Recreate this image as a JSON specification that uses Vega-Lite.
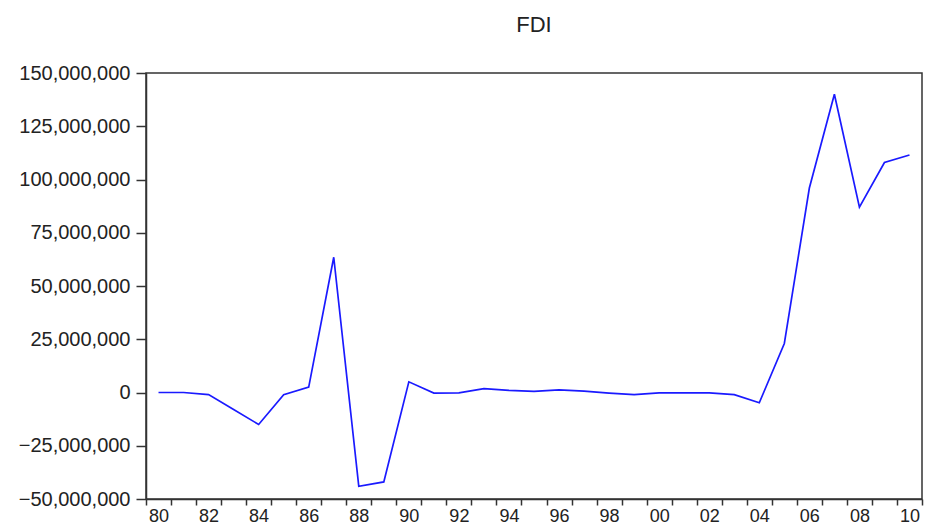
{
  "$schema": "https://vega.github.io/schema/vega-lite/v6.json",
  "autosize": "none",
  "width": 776,
  "height": 426,
  "padding": {"left": 146, "top": 73, "right": 3, "bottom": 28},
  "background": "white",
  "title": {
    "text": "FDI",
    "font": "Liberation Sans",
    "fontSize": 22,
    "fontWeight": "normal",
    "color": "#222222",
    "anchor": "middle",
    "offset": 26
  },
  "config": {
    "view": {"stroke": "#333333", "strokeWidth": 1.5},
    "axis": {
      "labelFont": "Liberation Sans",
      "labelColor": "#222222",
      "domainColor": "#333333",
      "tickColor": "#333333",
      "grid": false,
      "title": null
    }
  },
  "data": {
    "values": [
      {"year": 1980, "fdi": 0},
      {"year": 1981, "fdi": 0},
      {"year": 1982, "fdi": -1000000},
      {"year": 1983, "fdi": -8000000},
      {"year": 1984, "fdi": -15000000},
      {"year": 1985, "fdi": -1000000},
      {"year": 1986, "fdi": 2500000},
      {"year": 1987, "fdi": 63500000},
      {"year": 1988, "fdi": -44000000},
      {"year": 1989, "fdi": -42000000},
      {"year": 1990, "fdi": 5000000},
      {"year": 1991, "fdi": -300000},
      {"year": 1992, "fdi": -200000},
      {"year": 1993, "fdi": 1800000},
      {"year": 1994, "fdi": 1000000},
      {"year": 1995, "fdi": 500000},
      {"year": 1996, "fdi": 1200000},
      {"year": 1997, "fdi": 600000},
      {"year": 1998, "fdi": -300000},
      {"year": 1999, "fdi": -1000000},
      {"year": 2000, "fdi": -200000},
      {"year": 2001, "fdi": -200000},
      {"year": 2002, "fdi": -200000},
      {"year": 2003, "fdi": -1000000},
      {"year": 2004, "fdi": -4800000},
      {"year": 2005, "fdi": 23000000},
      {"year": 2006, "fdi": 96000000},
      {"year": 2007, "fdi": 140000000},
      {"year": 2008, "fdi": 87000000},
      {"year": 2009, "fdi": 108000000},
      {"year": 2010, "fdi": 111500000}
    ]
  },
  "mark": {"type": "line", "color": "#1a1aff", "strokeWidth": 1.7},
  "encoding": {
    "x": {
      "field": "year",
      "type": "quantitative",
      "scale": {"domain": [1979.5, 2010.5], "nice": false, "zero": false},
      "axis": {
        "values": [1979.5, 1980.5, 1981.5, 1982.5, 1983.5, 1984.5, 1985.5, 1986.5, 1987.5, 1988.5, 1989.5, 1990.5, 1991.5, 1992.5, 1993.5, 1994.5, 1995.5, 1996.5, 1997.5, 1998.5, 1999.5, 2000.5, 2001.5, 2002.5, 2003.5, 2004.5, 2005.5, 2006.5, 2007.5, 2008.5, 2009.5, 2010.5],
        "labelExpr": "(datum.value + 0.5) % 2 == 0 ? substring(toString(datum.value + 0.5), 2, 4) : ''",
        "labelOffset": 12.5,
        "labelFlush": false,
        "labelOverlap": false,
        "labelFontSize": 18,
        "labelPadding": 2,
        "tickSize": 6,
        "tickWidth": 1.5,
        "domainWidth": 1.5
      }
    },
    "y": {
      "field": "fdi",
      "type": "quantitative",
      "scale": {"domain": [-50000000, 150000000], "nice": false, "zero": false},
      "axis": {
        "values": [-50000000, -25000000, 0, 25000000, 50000000, 75000000, 100000000, 125000000, 150000000],
        "format": ",d",
        "labelFontSize": 20,
        "labelPadding": 6,
        "tickSize": 10,
        "tickWidth": 1.5,
        "domainWidth": 1.5
      }
    }
  }
}
